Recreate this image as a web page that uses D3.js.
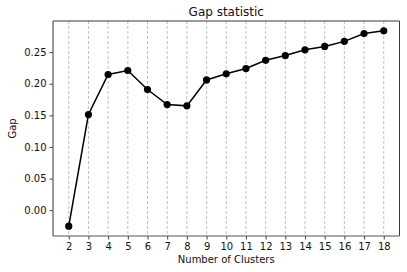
<!DOCTYPE html>
<html><head><meta charset="utf-8">
<script src="https://cdn.jsdelivr.net/npm/d3@7"></script>
<style>body{margin:0;background:#fff}text{font-family:"DejaVu Sans",sans-serif}</style>
</head><body><svg id="c" width="407" height="272"></svg>
<script>
const clusters = [2,3,4,5,6,7,8,9,10,11,12,13,14,15,16,17,18];
const gaps = [-0.0253,0.1513,0.2146,0.2209,0.1908,0.167,0.165,0.206,0.2157,0.224,0.237,0.2446,0.2536,0.259,0.267,0.2794,0.2837];
const yTicks = [0.00,0.05,0.10,0.15,0.20,0.25];
const title = "Gap statistic", xLabel = "Number of Clusters", yLabel = "Gap";

const svg = d3.select("#c");
const L=53,R=399.5,T=21,B=236;
const x = d3.scaleLinear().domain([1.2,18.8]).range([L,R]);
const yMin=-0.0408,yMax=0.2992;
const y = d3.scaleLinear().domain([yMin,yMax]).range([B,T]);

// grid
svg.append("g").selectAll("line").data(clusters).join("line")
 .attr("x1",d=>x(d)).attr("x2",d=>x(d)).attr("y1",T).attr("y2",B)
 .attr("stroke","#b0b0b0").attr("stroke-width",0.8).attr("stroke-dasharray","3,2");

// axes
const xa = svg.append("g").attr("transform",`translate(0,${B})`)
 .call(d3.axisBottom(x).tickValues(clusters).tickFormat(d3.format("d")).tickSize(3.5).tickPadding(3));
const ya = svg.append("g").attr("transform",`translate(${L},0)`)
 .call(d3.axisLeft(y).tickValues(yTicks).tickFormat(d3.format(".2f")).tickSize(3.5).tickPadding(3));
[xa,ya].forEach(a=>{a.select(".domain").remove();a.selectAll("line").attr("stroke","#444");
 a.selectAll("text").attr("font-size","10px").attr("fill","#111").attr("font-family","DejaVu Sans");});

// spines
svg.append("line").attr("x1",L).attr("x2",R).attr("y1",T).attr("y2",T).attr("stroke","#222").attr("stroke-width",0.9);
svg.append("line").attr("x1",R).attr("x2",R).attr("y1",T).attr("y2",B).attr("stroke","#222").attr("stroke-width",0.9);
svg.append("line").attr("x1",L).attr("x2",R).attr("y1",B).attr("y2",B).attr("stroke","#555").attr("stroke-width",1.2);
svg.append("line").attr("x1",L).attr("x2",L).attr("y1",T).attr("y2",B).attr("stroke","#555").attr("stroke-width",1.2);

// line + markers
const data = clusters.map((c,i)=>({c,g:gaps[i]}));
svg.append("path").datum(data).attr("fill","none").attr("stroke","#000").attr("stroke-width",1.5)
 .attr("d",d3.line().x(d=>x(d.c)).y(d=>y(d.g)));
svg.append("g").selectAll("circle").data(data).join("circle")
 .attr("cx",d=>x(d.c)).attr("cy",d=>y(d.g)).attr("r",3.6).attr("fill","#000");

// labels
svg.append("text").attr("x",(L+R)/2).attr("y",15.5).attr("text-anchor","middle").attr("font-size","12px").attr("fill","#111").text(title);
svg.append("text").attr("x",(L+R)/2).attr("y",263).attr("text-anchor","middle").attr("font-size","10px").attr("fill","#111").text(xLabel);
svg.append("text").attr("transform",`translate(16,${(T+B)/2}) rotate(-90)`).attr("text-anchor","middle").attr("font-size","10px").attr("fill","#111").text(yLabel);
</script></body></html>
